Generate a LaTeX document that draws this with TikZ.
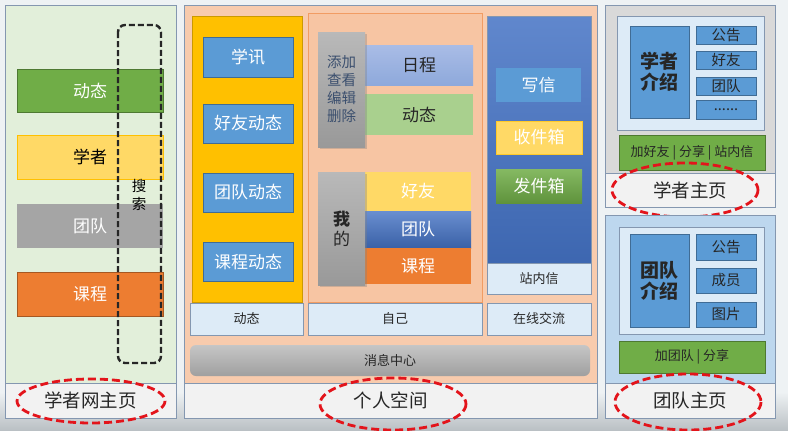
\documentclass[tikz,border=0pt]{standalone}
\usepackage{fontspec}
\setmainfont{Noto Sans CJK SC}
\usetikzlibrary{shadows}
\definecolor{bgsky}{HTML}{EEF2F4}
\definecolor{ground}{HTML}{B9BFC3}
\definecolor{frame}{HTML}{8497B0}
\definecolor{tagbg}{HTML}{F2F2F2}
\definecolor{homegreen}{HTML}{E2EFDA}
\definecolor{leaf}{HTML}{70AD47}
\definecolor{butter}{HTML}{FFD966}
\definecolor{amber}{HTML}{FFC000}
\definecolor{stone}{HTML}{A5A5A5}
\definecolor{tangerine}{HTML}{ED7D31}
\definecolor{peach}{HTML}{F8CBAD}
\definecolor{tile}{HTML}{5B9BD5}
\definecolor{paleblue}{HTML}{DDEBF7}
\definecolor{lavtop}{HTML}{A9BCE6}
\definecolor{lavbot}{HTML}{8EA9DB}
\definecolor{sage}{HTML}{A9D08E}
\definecolor{royal}{HTML}{4472C4}
\definecolor{ash}{HTML}{D9D9D9}
\definecolor{skyblue}{HTML}{BDD7EE}
\definecolor{ringred}{HTML}{E3141B}
\definecolor{slate}{HTML}{3B4F6E}
\definecolor{ink}{HTML}{262626}
\begin{document}
\begin{tikzpicture}[x=1pt, y=-1pt, line width=.6pt,
  pane/.style={draw=frame},
  tag/.style={draw=frame, fill=tagbg},
  cell/.style={draw=#1!70!black, fill=#1},
  slab/.style={top color=gray!55, bottom color=gray!80, drop shadow={opacity=.35, shadow xshift=2pt, shadow yshift=-2pt}},
  ring/.style={draw=ringred, line width=2.8pt, dash pattern=on 8pt off 4pt},
  big/.style={font=\fontsize{17}{20}\selectfont},
  mid/.style={font=\fontsize{14.5}{18}\selectfont},
  small/.style={font=\fontsize{13}{16}\selectfont, text=ink},
  title/.style={font=\fontsize{18.5}{22}\selectfont, text=ink}]
\useasboundingbox (0,0) rectangle (788,431);
\fill[bgsky] (0,0) rectangle (788,431);
\shade[top color=bgsky, bottom color=ground] (0,392) rectangle (788,431);

% scholar net home
\draw[pane, fill=homegreen] (5,5) rectangle (176,383);
\draw[tag] (5,383) rectangle (176,418) node[midway, title] (homelbl) {学者网主页};
\draw[cell=leaf] (17,69) rectangle (163,112) node[midway, big, text=white] (hnews) {动态};
\draw[fill=butter, draw=amber] (17,135) rectangle (163,179) node[midway, big] (hscholar) {学者};
\fill[stone] (17,204) rectangle (163,248) node[midway, big, text=white] (hteam) {团队};
\draw[cell=tangerine] (17,272) rectangle (163,316) node[midway, big, text=white] (hcourse) {课程};
\draw[line width=2.4pt, dash pattern=on 6pt off 3pt, rounded corners=7pt, draw=ink] (118,25) rectangle (161,363);
\node[mid, align=center] (search) at (139,195) {搜\\索};
\draw[ring] (91,401) ellipse [x radius=74, y radius=22];

% personal space
\draw[pane, fill=peach] (184,5) rectangle (597,383);
\draw[tag] (184,383) rectangle (597,418) node[midway, title] (spacelbl) {个人空间};
\draw[fill=amber, draw=amber!80!black] (192,16) rectangle (302,302);
\draw[cell=tile] (203,37) rectangle (293,77) node[midway, big, text=white] (xuexun) {学讯};
\draw[cell=tile] (203,104) rectangle (293,143) node[midway, big, text=white] (friendnews) {好友动态};
\draw[cell=tile] (203,173) rectangle (293,212) node[midway, big, text=white] (teamnews) {团队动态};
\draw[cell=tile] (203,242) rectangle (293,281) node[midway, big, text=white] (coursenews) {课程动态};
\draw[tag, fill=paleblue] (190,303) rectangle (303,335) node[midway, small] (feedlbl) {动态};

\draw[fill=peach!92!tangerine, draw=tangerine!60!peach] (308,13) rectangle (482,302);
\shade[top color=lavtop, bottom color=lavbot] (365,45) rectangle (473,85) node[midway, big, text=ink] (sched) {日程};
\fill[sage] (365,94) rectangle (473,135) node[midway, big, text=ink] (mynews) {动态};
\fill[butter] (365,172) rectangle (471,211) node[midway, big, text=white] (myfriend) {好友};
\shade[top color=royal!80!white, bottom color=royal!85!black] (365,211) rectangle (471,248) node[midway, big, text=white] (myteam) {团队};
\fill[tangerine] (365,248) rectangle (471,284) node[midway, big, text=white] (mycourse) {课程};
\shade[slab] (318,32) rectangle (365,147) node[midway, mid, text=slate, align=center] (edit) {添加\\查看\\编辑\\删除};
\shade[slab] (318,172) rectangle (365,285) node[midway, big, text=ink, align=center] (mine) {\bfseries 我\\的};
\draw[tag, fill=paleblue] (308,303) rectangle (482,335) node[midway, small] (selflbl) {自己};

\shadedraw[top color=royal!85!white, bottom color=royal!90!black, draw=frame] (487,16) rectangle (591,263);
\draw[tag, fill=paleblue] (487,263) rectangle (591,294) node[midway, small] (maillbl) {站内信};
\fill[tile] (496,68) rectangle (581,102) node[midway, big, text=white] (write) {写信};
\draw[fill=butter, draw=amber!60!butter] (496,121) rectangle (582,154) node[midway, big, text=white] (inbox) {收件箱};
\shade[top color=leaf!85!white, bottom color=leaf!85!black] (496,169) rectangle (582,203) node[midway, big, text=white] (outbox) {发件箱};
\draw[tag, fill=paleblue] (487,303) rectangle (591,335) node[midway, small] (chatlbl) {在线交流};
\shade[top color=gray!45, bottom color=gray!75, rounded corners=6pt] (190,345) rectangle (590,376) node[midway, small] (msgcenter) {消息中心};
\draw[ring] (393,404) ellipse [x radius=73, y radius=26];

% scholar page
\draw[pane, fill=ash] (605,5) rectangle (775,173);
\draw[tag] (605,173) rectangle (775,207) node[midway, title] (scholarlbl) {学者主页};
\draw[pane, fill=paleblue] (617,16) rectangle (764,130);
\draw[cell=tile] (630,26) rectangle (689,118) node[midway, font=\fontsize{19}{21}\selectfont\bfseries, text=ink, align=center] (sintro) {学者\\介绍};
\draw[cell=tile] (696,26) rectangle (756,44) node[midway, mid, text=ink] (snotice) {公告};
\draw[cell=tile] (696,51) rectangle (756,69) node[midway, mid, text=ink] (sfriend) {好友};
\draw[cell=tile] (696,77) rectangle (756,95) node[midway, mid, text=ink] (steam) {团队};
\draw[cell=tile] (696,100) rectangle (756,119) node[midway, mid, text=ink] (smore) {......};
\draw[cell=leaf] (619,135) rectangle (765,170) node[midway, small] (sact) {加好友 | 分享 | 站内信};
\draw[ring] (685,190) ellipse [x radius=73, y radius=27];

% team page
\draw[pane, fill=skyblue] (605,215) rectangle (775,383);
\draw[tag] (605,383) rectangle (775,418) node[midway, title] (teamlbl) {团队主页};
\draw[pane, fill=paleblue] (619,227) rectangle (764,334);
\draw[cell=tile] (630,234) rectangle (689,327) node[midway, font=\fontsize{19}{21}\selectfont\bfseries, text=ink, align=center] (tintro) {团队\\介绍};
\draw[cell=tile] (696,234) rectangle (756,260) node[midway, mid, text=ink] (tnotice) {公告};
\draw[cell=tile] (696,268) rectangle (756,293) node[midway, mid, text=ink] (tmember) {成员};
\draw[cell=tile] (696,302) rectangle (756,327) node[midway, mid, text=ink] (tpic) {图片};
\draw[cell=leaf] (619,341) rectangle (765,373) node[midway, small] (tact) {加团队 | 分享};
\draw[ring] (688,402) ellipse [x radius=73, y radius=28];
\end{tikzpicture}
\end{document}
